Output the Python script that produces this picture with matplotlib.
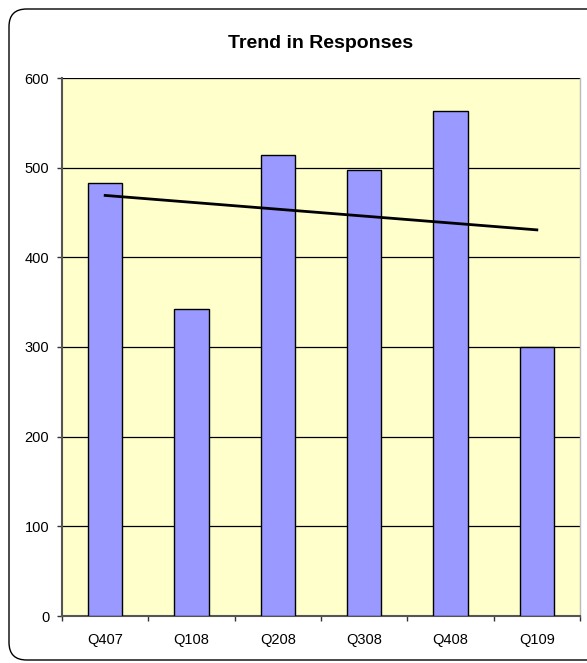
import numpy as np
import matplotlib
matplotlib.use("Agg")
import matplotlib.pyplot as plt
from matplotlib.patches import FancyBboxPatch

categories = ["Q407", "Q108", "Q208", "Q308", "Q408", "Q109"]
responses = [483, 342, 514, 497, 563, 300]
yticks = [0, 100, 200, 300, 400, 500, 600]
title = "Trend in Responses"

plt.rcParams['font.family'] = ['Liberation Sans', 'DejaVu Sans']

W, H = 587, 663
fig = plt.figure(figsize=(W / 100, H / 100), dpi=100)
fig.patch.set_facecolor("white")

# rounded chart border
border = FancyBboxPatch((9 / W, 1 - 660 / H), (W + 20 - 9) / W, (660 - 9) / H,
                        boxstyle="round,pad=0,rounding_size=0.03",
                        transform=fig.transFigure, facecolor="none",
                        edgecolor="black", linewidth=1.0, mutation_aspect=W / H)
fig.patches.append(border)

ax = fig.add_axes([62 / W, 1 - 616 / H, (580 - 62) / W, (616 - 78) / H])
ax.set_facecolor("#FFFFCC")

x = np.arange(len(categories))
ax.bar(x, responses, width=0.4, color="#9999FF", edgecolor="black",
       linewidth=1.0, zorder=3)

# linear trendline
coef = np.polyfit(x, responses, 1)
ax.plot(x[[0, -1]], np.polyval(coef, x[[0, -1]]), color="black",
        linewidth=2.0, zorder=4)

ax.set_xlim(-0.5, len(categories) - 0.5)
ax.set_ylim(0, 600)
ax.set_yticks(yticks)
ax.set_yticklabels([str(v) for v in yticks], fontsize=10.5)
ax.yaxis.grid(True, color="black", linewidth=0.9, zorder=1)
ax.set_axisbelow(True)

ax.set_xticks(x)
ax.set_xticklabels(categories, fontsize=10.5)
ax.tick_params(axis="x", length=0, pad=12)
ax.set_xticks(np.arange(-0.5, len(categories)), minor=True)
ax.tick_params(axis="x", which="minor", length=3.6, width=1, color="#333333",
               direction="out")
ax.tick_params(axis="y", length=3.6, width=1, color="#333333", pad=5.5)

ax.spines["top"].set_visible(False)
ax.spines["right"].set_color("#BBBBBB")
ax.spines["right"].set_linewidth(1.0)
ax.spines["left"].set_color("#555555")
ax.spines["left"].set_linewidth(1.5)
ax.spines["bottom"].set_color("#555555")
ax.spines["bottom"].set_linewidth(1.5)

fig.text((62 + 580) / 2 / W, 1 - 43 / H, title, ha="center", va="center",
         fontsize=14, fontweight="bold")

fig.savefig("out.png", dpi=100)
